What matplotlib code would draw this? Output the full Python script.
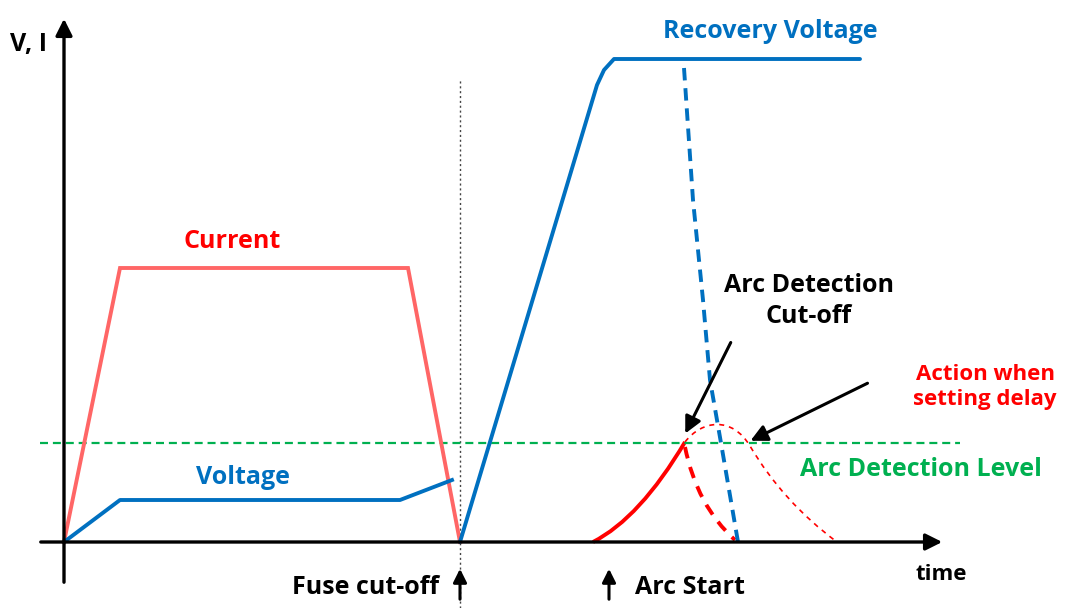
import numpy as np
from matplotlib import pyplot as plt
from matplotlib.path import Path
from matplotlib.patches import PathPatch

plt.rcParams['font.family'] = ['Open Sans', 'DejaVu Sans']

# chart units: t along the time axis, v up from the time axis (origin at the axes crossing)
cur_t = [0, 56, 344, 396]
cur_v = [0, 274, 274, 0]

volt_t = [0, 56, 336, 388]
volt_v = [0, 42, 42, 62]

rec_t = [396, 533, 540, 550, 796]
rec_v = [0, 457, 472, 483, 483]

rec_cut_t = [620, 629, 639, 646, 657, 674]
rec_cut_v = [474, 342, 242, 162, 99, 0]

# arc current curves, given as bezier nodes / control points
arc_t = [529, 576, 621]
arc_v = [0, 24, 100]

cut_t = [621, 633, 671]
cut_v = [95, 36, 2]

delay_t = [621, 638, 668, 686, 719, 773]
delay_v = [100, 122, 126, 96, 40, 0]

detect_level = 99
fuse_t = 396
arc_start_t = 545

red = '#FF0000'
salmon = '#FF6666'
blue = '#0070C0'
green = '#00B050'

fig = plt.figure(figsize=(10.68, 6.08), dpi=100)
ax = fig.add_axes([0, 0, 1, 1])
ax.set_xlim(-64, 1004)
ax.set_ylim(-66, 542)
ax.axis('off')

# axes
ax.annotate('', xy=(0, 526), xytext=(0, -43),
            arrowprops=dict(arrowstyle='-|>', lw=2.4, color='black', mutation_scale=25))
ax.annotate('', xy=(881, 0), xytext=(-26, 0),
            arrowprops=dict(arrowstyle='-|>', lw=2.4, color='black', mutation_scale=25))

# fuse cut-off marker
ax.plot([fuse_t, fuse_t], [-66, 462], ls=(0, (1.5, 2)), lw=1, color='#444444')
ax.axhline(detect_level, xmin=40 / 1068, xmax=960 / 1068, ls=(0, (3.6, 2.2)), lw=1.6, color=green)

ax.plot(cur_t, cur_v, color=salmon, lw=2.8, solid_joinstyle='miter')
ax.plot(volt_t, volt_v, color=blue, lw=2.8)
ax.plot(rec_t, rec_v, color=blue, lw=2.8, solid_capstyle='round')
ax.plot(rec_cut_t, rec_cut_v, color=blue, lw=2.8, ls=(0, (3.2, 2)))


def curve(ts, vs, codes, **kw):
    p = Path(np.column_stack([ts, vs]), codes)
    ax.add_patch(PathPatch(p, fill=False, **kw))


Q = Path.CURVE3
C = Path.CURVE4
curve(arc_t, arc_v, [Path.MOVETO, Q, Q], edgecolor=red, lw=2.8)
curve(cut_t, cut_v, [Path.MOVETO, Q, Q], edgecolor=red, lw=2.8, ls=(0, (3, 2.3)))
curve(delay_t, delay_v, [Path.MOVETO, C, C, C, Q, Q], edgecolor=red, lw=1.2, ls=(0, (3, 3)))

# pointers
ax.annotate('', xy=(620, 106), xytext=(668, 202),
            arrowprops=dict(arrowstyle='-|>', lw=2.2, color='black', mutation_scale=25))
ax.annotate('', xy=(684, 100), xytext=(806, 160),
            arrowprops=dict(arrowstyle='-|>', lw=2.2, color='black', mutation_scale=25))
for t in (fuse_t, arc_start_t):
    ax.annotate('', xy=(t, -24), xytext=(t, -60),
                arrowprops=dict(arrowstyle='-|>', lw=2.2, color='black', mutation_scale=20))

fs = 18
ax.text(-36, 497, 'V, I', fontsize=fs, fontweight='bold', ha='center', va='center')
ax.text(168, 300, 'Current', fontsize=fs, fontweight='bold', color=red, ha='center', va='center')
ax.text(179, 65, 'Voltage', fontsize=fs, fontweight='bold', color=blue, ha='center', va='center')
ax.text(706, 510, 'Recovery Voltage', fontsize=fs, fontweight='bold', color=blue, ha='center', va='center')
ax.text(745, 241, 'Arc Detection\nCut-off', fontsize=fs, fontweight='bold', ha='center', va='center',
        linespacing=1.3)
ax.text(921, 155, 'Action when\nsetting delay', fontsize=16, fontweight='bold', color=red,
        ha='center', va='center', linespacing=1.25)
ax.text(857, 73, 'Arc Detection Level', fontsize=fs, fontweight='bold', color=green, ha='center', va='center')
ax.text(877, -33, 'time', fontsize=16, fontweight='bold', ha='center', va='center')
ax.text(301, -45, 'Fuse cut-off', fontsize=fs, fontweight='bold', ha='center', va='center')
ax.text(626, -45, 'Arc Start', fontsize=fs, fontweight='bold', ha='center', va='center')

fig.savefig('out.png', dpi=100)
